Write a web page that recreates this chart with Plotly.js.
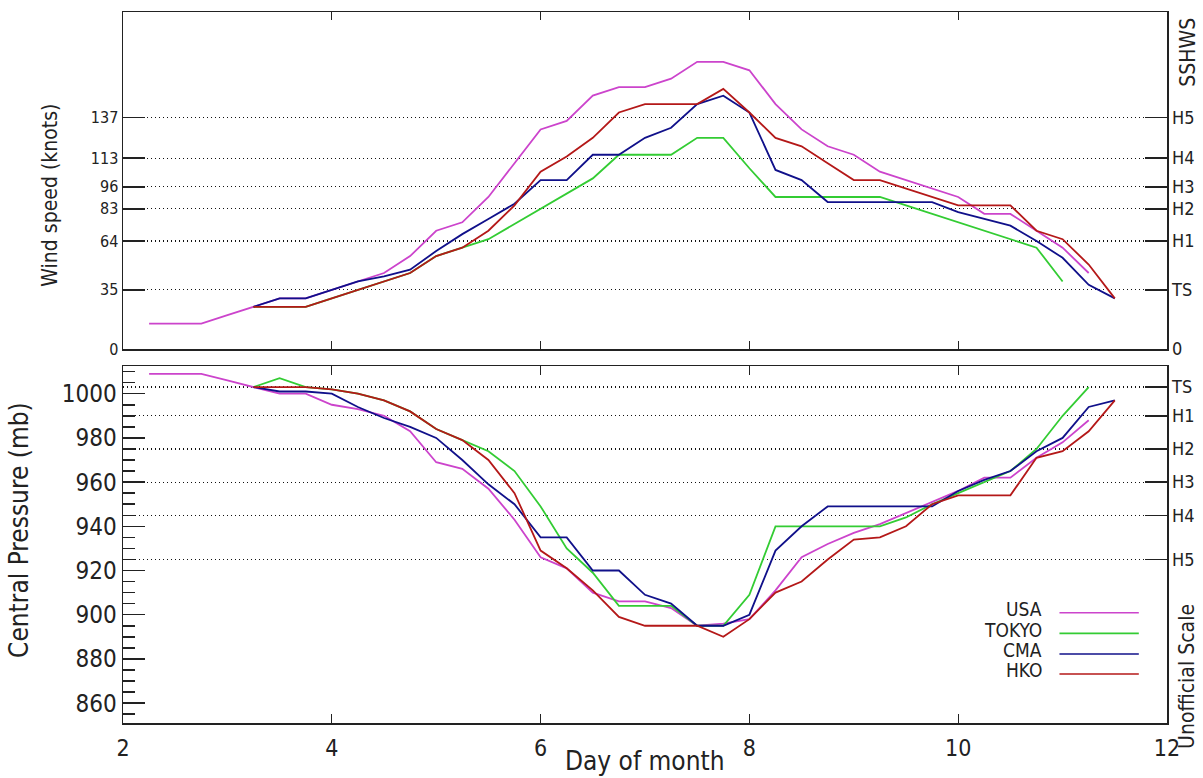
<!DOCTYPE html>
<html>
<head>
<meta charset="utf-8">
<script src="https://cdn.plot.ly/plotly-3.0.1.min.js"></script>
<style>html,body{margin:0;padding:0;background:#fff;}#chart{width:1203px;height:778px;}</style>
</head>
<body>
<div id="chart"></div>
<script>
// Time axis (day of month, 6-hourly)
const days = [2.25,2.5,2.75,3.0,3.25,3.5,3.75,4.0,4.25,4.5,4.75,5.0,5.25,5.5,5.75,6.0,6.25,6.5,6.75,7.0,7.25,7.5,7.75,8.0,8.25,8.5,8.75,9.0,9.25,9.5,9.75,10.0,10.25,10.5,10.75,11.0,11.25,11.5];

// Wind speed (knots)
const usaWind   = [15,15,15,20,25,30,30,35,40,45,55,70,75,90,110,130,135,150,155,155,160,170,170,165,145,130,120,115,105,100,95,90,80,80,70,60,45,null];
const tokyoWind = [null,null,null,null,25,25,25,30,35,40,45,55,60,65,74,83,92,101,115,115,115,125,125,107,90,90,90,90,90,85,80,75,70,65,60,40,null,null];
const cmaWind   = [null,null,null,null,25,30,30,35,40,43,47,58,68,77,86,100,100,115,115,125,131,145,150,140,106,100,87,87,87,87,87,81,77,73,64,54,38,30];
const hkoWind   = [null,null,null,null,25,25,25,30,35,40,45,55,60,70,85,105,114,125,140,145,145,145,154,140,125,120,110,100,100,95,90,85,85,85,70,65,50,30];

// Central pressure (mb)
const usaPres   = [1009,1009,1009,1006,1003,1000,1000,995,993,990,983,969,966,957,943,926,921,910,906,906,903,895,896,898,911,926,932,937,941,946,951,956,962,962,971,978,988,null];
const tokyoPres = [null,null,null,null,1003,1007,1003,1002,1000,997,992,984,979,974,965,949,930,919,904,904,904,895,895,909,940,940,940,940,940,944,950,955,960,965,975,990,1003,null];
const cmaPres   = [null,null,null,null,1003,1001,1001,1000,994,989,985,980,970,959,950,935,935,920,920,909,905,895,895,900,929,940,949,949,949,949,949,956,961,965,974,980,994,997];
const hkoPres   = [null,null,null,null,1003,1003,1003,1002,1000,997,992,984,979,970,955,929,921,911,899,895,895,895,890,898,910,915,925,934,935,940,950,954,954,954,971,974,983,997];

// Agencies
const agencies = ["USA","TOKYO","CMA","HKO"];
const colors   = ["#cc44cc","#33cc33","#10108a","#b41818"];

// Scale reference levels
const windLevels  = [0,35,64,83,96,113,137];
const windLeft    = ["0","35","64","83","96","113","137"];
const windRight   = ["0","TS","H1","H2","H3","H4","H5"];
const presLevels  = [1003,990,975,960,945,925];
const presRight   = ["TS","H1","H2","H3","H4","H5"];
const dayTicks    = [2,4,6,8,10,12];

const FONT = "'Liberation Sans Narrow','DejaVu Sans Condensed','Liberation Sans',sans-serif";
const INK = "#222";

const windSeries = [usaWind, tokyoWind, cmaWind, hkoWind];
const presSeries = [usaPres, tokyoPres, cmaPres, hkoPres];

const traces = [];
agencies.forEach((name, i) => {
  traces.push({x: days, y: windSeries[i], type: "scatter", mode: "lines", name: name,
    xaxis: "x", yaxis: "y", line: {color: colors[i], width: 1.8}, connectgaps: false, showlegend: false});
});
agencies.forEach((name, i) => {
  traces.push({x: days, y: presSeries[i], type: "scatter", mode: "lines", name: name,
    xaxis: "x2", yaxis: "y2", line: {color: colors[i], width: 1.8}, connectgaps: false, showlegend: false});
});
// invisible carriers so the right-hand scale axes are drawn
traces.push({x: days, y: hkoWind, type: "scatter", mode: "lines", xaxis: "x", yaxis: "y3",
  line: {width: 0, color: "rgba(0,0,0,0)"}, hoverinfo: "skip", showlegend: false});
traces.push({x: days, y: hkoPres, type: "scatter", mode: "lines", xaxis: "x2", yaxis: "y4",
  line: {width: 0, color: "rgba(0,0,0,0)"}, hoverinfo: "skip", showlegend: false});

// Legend drawn as text + sample lines in the lower panel
const legendY = [0.160, 0.131, 0.102, 0.074];
const annotations = [];
const shapes = [];
agencies.forEach((name, i) => {
  annotations.push({xref: "paper", yref: "paper", x: 0.882, y: legendY[i], text: name, showarrow: false,
    xanchor: "right", yanchor: "middle", font: {family: FONT, size: 19, color: INK}});
  shapes.push({type: "line", xref: "paper", yref: "paper", x0: 0.897, x1: 0.973, y0: legendY[i] - 0.005, y1: legendY[i] - 0.005,
    line: {color: colors[i], width: 1.6}});
});
annotations.push({xref: "paper", yref: "paper", x: -0.070, y: 0.743, text: "Wind speed (knots)", textangle: -90,
  showarrow: false, xanchor: "center", yanchor: "middle", font: {family: FONT, size: 21, color: INK}});
annotations.push({xref: "paper", yref: "paper", x: -0.099, y: 0.271, text: "Central Pressure (mb)", textangle: -90,
  showarrow: false, xanchor: "center", yanchor: "middle", font: {family: FONT, size: 26, color: INK}});
annotations.push({xref: "paper", yref: "paper", x: 1.020, y: 0.944, text: "SSHWS", textangle: -90,
  showarrow: false, xanchor: "center", yanchor: "middle", font: {family: FONT, size: 21, color: INK}});
annotations.push({xref: "paper", yref: "paper", x: 1.019, y: 0.066, text: "Unofficial Scale", textangle: -90,
  showarrow: false, xanchor: "center", yanchor: "middle", font: {family: FONT, size: 21, color: INK}});
annotations.push({xref: "paper", yref: "paper", x: 0.50, y: -0.054, text: "Day of month",
  showarrow: false, xanchor: "center", yanchor: "middle", font: {family: FONT, size: 26, color: INK}});

const axisCommon = {showline: true, linecolor: INK, linewidth: 1.5, ticks: "inside", tickcolor: INK,
  zeroline: false, fixedrange: true};
const DOT = "1px,3px";

const layout = {
  width: 1203, height: 778,
  margin: {l: 123, r: 36, t: 12, b: 55},
  paper_bgcolor: "#ffffff", plot_bgcolor: "#ffffff",
  font: {family: FONT, color: INK},
  showlegend: false,
  xaxis: Object.assign({}, axisCommon, {domain: [0, 1], range: [2, 12], anchor: "y", mirror: "ticks",
    tickmode: "array", tickvals: [4,6,8,10], ticklen: 8, showticklabels: false, showgrid: false}),
  yaxis: Object.assign({}, axisCommon, {domain: [0.526, 1], range: [0, 199.5], anchor: "x",
    tickmode: "array", tickvals: windLevels, ticktext: windLeft, ticklen: 22, tickwidth: 1.5,
    showgrid: true, gridcolor: "#111", gridwidth: 1.2, griddash: DOT,
    tickfont: {family: FONT, size: 16, color: INK}}),
  yaxis3: Object.assign({}, axisCommon, {overlaying: "y", side: "right", anchor: "x", range: [0, 199.5],
    tickmode: "array", tickvals: windLevels, ticktext: windRight, ticklen: 22, tickwidth: 1.5, showgrid: false,
    tickfont: {family: FONT, size: 18, color: INK}}),
  xaxis2: Object.assign({}, axisCommon, {domain: [0, 1], range: [2, 12], anchor: "y2", mirror: "ticks",
    tickmode: "array", tickvals: dayTicks, ticktext: dayTicks.map(String), ticklen: 9, ticklabelstandoff: 4,
    showgrid: false, tickfont: {family: FONT, size: 23, color: INK}}),
  yaxis2: Object.assign({}, axisCommon, {domain: [0, 0.502], range: [851, 1012.5], anchor: "x2",
    tickmode: "linear", tick0: 860, dtick: 20, ticklen: 22, tickwidth: 1.5, showgrid: false,
    minor: {ticks: "inside", ticklen: 12, tickcolor: INK, tickwidth: 1.5, dtick: 5, tick0: 860, showgrid: false},
    tickfont: {family: FONT, size: 24, color: INK}}),
  yaxis4: Object.assign({}, axisCommon, {overlaying: "y2", side: "right", anchor: "x2", range: [851, 1012.5],
    tickmode: "array", tickvals: presLevels, ticktext: presRight, ticklen: 22, tickwidth: 1.5,
    showgrid: true, gridcolor: "#111", gridwidth: 1.2, griddash: DOT,
    tickfont: {family: FONT, size: 18, color: INK}}),
  annotations: annotations,
  shapes: shapes
};

Plotly.newPlot("chart", traces, layout, {staticPlot: true, displayModeBar: false});
</script>
</body>
</html>
